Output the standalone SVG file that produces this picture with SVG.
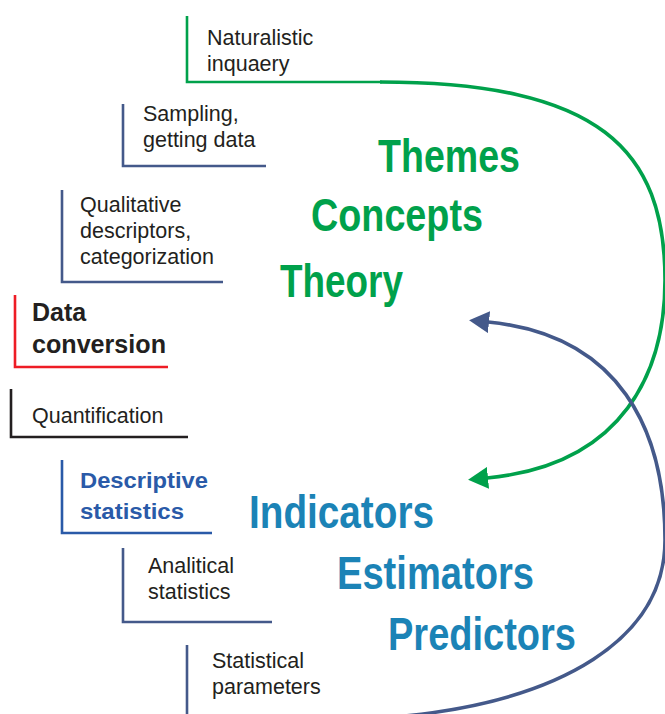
<svg xmlns="http://www.w3.org/2000/svg" width="665" height="714" viewBox="0 0 665 714">
<style>
.lbl{font-family:"Liberation Sans",Arial,sans-serif;font-size:21.5px;fill:#231f20}
.big{font-family:"Liberation Sans",Arial,sans-serif;font-size:46px;font-weight:bold}
.g{fill:#00a14b}
.b{fill:#1b83b6}
.ln{fill:none;stroke-width:2.6}
.slate{stroke:#44598a}
</style>
<defs>
<marker id="ag" markerUnits="userSpaceOnUse" markerWidth="20" markerHeight="22" viewBox="0 0 20 22" refX="1" refY="11" orient="auto"><path d="M0,0 L20,11 L0,22 Z" fill="#00a14b"/></marker>
<marker id="ab" markerUnits="userSpaceOnUse" markerWidth="20" markerHeight="22" viewBox="0 0 20 22" refX="1" refY="11" orient="auto"><path d="M0,0 L20,11 L0,22 Z" fill="#44598a"/></marker>
</defs>
<rect width="665" height="714" fill="#ffffff"/>
<g id="connectors" fill="none" stroke-width="3.6">
<path d="M380,82 C600,82 665,150 665,280 C665,370 625,465 487,478" stroke="#00a14b" marker-end="url(#ag)"/>
<path d="M405,716 C560,700 665,640 665,540 C665,430 620,335 488,322" stroke="#44598a" marker-end="url(#ab)"/>
</g>
<g id="n-naturalistic">
<path class="ln" d="M187,16 V82 H382" stroke="#00a14b" stroke-width="3.2"/>
<text class="lbl" x="207" y="45">Naturalistic</text>
<text class="lbl" x="207" y="71">inquaery</text>
</g>
<g id="n-sampling">
<path class="ln slate" d="M123,104 V166 H266"/>
<text class="lbl" x="143" y="121">Sampling,</text>
<text class="lbl" x="143" y="147">getting data</text>
</g>
<g id="n-qualitative">
<path class="ln slate" d="M62,190 V282 H223"/>
<text class="lbl" x="80" y="212">Qualitative</text>
<text class="lbl" x="80" y="238">descriptors,</text>
<text class="lbl" x="80" y="264">categorization</text>
</g>
<g id="n-dataconversion">
<path class="ln" d="M15,295 V367 H168" stroke="#ee1c25" stroke-width="3"/>
<text class="lbl" x="32" y="321" style="font-size:25px;font-weight:bold">Data</text>
<text class="lbl" x="32" y="353" style="font-size:25px;font-weight:bold" textLength="134" lengthAdjust="spacingAndGlyphs">conversion</text>
</g>
<g id="n-quantification">
<path class="ln" d="M11,389 V437 H188" stroke="#231f20"/>
<text class="lbl" x="32" y="423">Quantification</text>
</g>
<g id="n-descriptive">
<path class="ln" d="M62,460 V533 H212" stroke="#2a5aa8"/>
<text class="lbl" x="80" y="488" style="font-weight:bold;fill:#2a5aa8;font-size:22px" textLength="128" lengthAdjust="spacingAndGlyphs">Descriptive</text>
<text class="lbl" x="80" y="519" style="font-weight:bold;fill:#2a5aa8;font-size:22px" textLength="104" lengthAdjust="spacingAndGlyphs">statistics</text>
</g>
<g id="n-analitical">
<path class="ln slate" d="M123,548 V622 H272"/>
<text class="lbl" x="148" y="573">Analitical</text>
<text class="lbl" x="148" y="599">statistics</text>
</g>
<g id="n-statistical">
<path class="ln slate" d="M187,645 V716"/>
<text class="lbl" x="212" y="668">Statistical</text>
<text class="lbl" x="212" y="694">parameters</text>
</g>
<g id="n-themes">
<text class="big g" x="378" y="172" textLength="142" lengthAdjust="spacingAndGlyphs">Themes</text>
<text class="big g" x="311" y="231" textLength="172" lengthAdjust="spacingAndGlyphs">Concepts</text>
<text class="big g" x="280" y="297" textLength="123" lengthAdjust="spacingAndGlyphs">Theory</text>
</g>
<g id="n-indicators">
<text class="big b" x="249" y="528" textLength="185" lengthAdjust="spacingAndGlyphs">Indicators</text>
<text class="big b" x="337" y="589" textLength="197" lengthAdjust="spacingAndGlyphs">Estimators</text>
<text class="big b" x="388" y="650" textLength="188" lengthAdjust="spacingAndGlyphs">Predictors</text>
</g>
</svg>
